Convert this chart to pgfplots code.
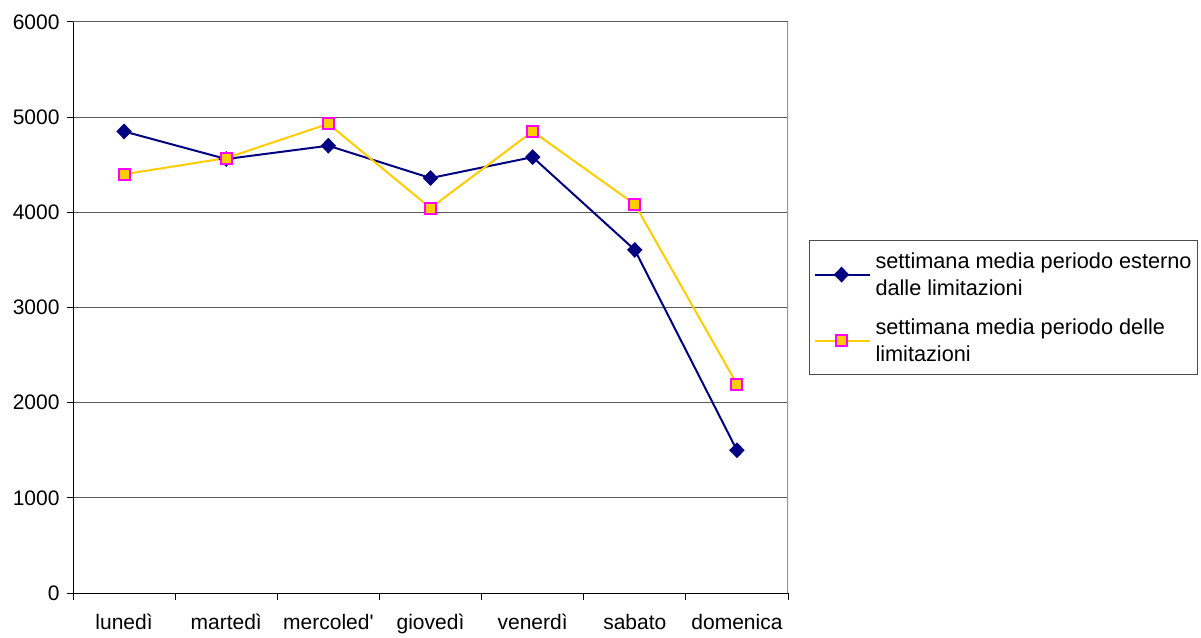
\documentclass[border=0pt]{standalone}
\usepackage{pgfplots}
\pgfplotsset{compat=1.18}
\usepackage{fontspec}
\setmainfont{Liberation Sans}
\definecolor{navyc}{HTML}{000080}
\definecolor{gold}{HTML}{FFCC00}
\definecolor{mag}{HTML}{FF00FF}
\begin{document}
\begin{tikzpicture}
\useasboundingbox (0,0) rectangle (1201bp,638bp);
\begin{axis}[
  at={(73bp,45bp)}, anchor=south west,
  scale only axis, width=715bp, height=571bp,
  xmin=-0.5, xmax=6.5, ymin=0, ymax=6000,
  xtick={0,...,6},
  xticklabels={lunedì,martedì,mercoled\textquotesingle,giovedì,venerdì,sabato,domenica},
  minor xtick={-0.5,0.5,...,6.5},
  major x tick style={draw=none},
  minor tick length=7bp,
  ytick={0,1000,...,6000},
  major tick length=6bp,
  tick align=outside,
  tick style={black, line width=1bp},
  axis x line*=bottom, axis y line*=left,
  axis line style={black, line width=1bp, -},
  ymajorgrids, major grid style={draw=black!65, line width=1bp},
  /pgf/number format/assume math mode=true,
  scaled y ticks=false,
  yticklabel style={/pgf/number format/1000 sep={}},
  ticklabel style={font=\fontsize{21bp}{24bp}\selectfont},
  xticklabel style={yshift=-12bp},
  yticklabel style={xshift=-4bp},
  legend style={at={(1.0294,0.6182)}, anchor=north west,
    draw=black!70, line width=1bp,
    font=\fontsize{21.7bp}{27bp}\selectfont,
    cells={anchor=west, align=left},
    row sep=18bp, inner xsep=4bp, inner ysep=10bp},
  legend image code/.code={
    \draw[#1, mark repeat=2, mark phase=2] plot coordinates {(0bp,0bp) (27bp,0bp) (55bp,0bp)};
    \path (58bp,0bp);
  },
]
\addplot[navyc, line width=2bp, mark=diamond*, mark size=6.5bp,
  mark options={solid, xscale=1.3, fill=navyc, draw=navyc}]
  coordinates {(0,4850) (1,4560) (2,4700) (3,4360) (4,4580) (5,3605) (6,1500)};
\addlegendentry{settimana media periodo esterno\\dalle limitazioni}
\addplot[gold, line width=2bp, mark=square*, mark size=5.5bp,
  mark options={solid, fill=gold, draw=mag, line width=2bp}]
  coordinates {(0,4400) (1,4570) (2,4930) (3,4045) (4,4850) (5,4085) (6,2195)};
\addlegendentry{settimana media periodo delle\\limitazioni}
\draw[black!40, line width=2bp] (rel axis cs:1,0) -- (rel axis cs:1,1);
\end{axis}
\end{tikzpicture}
\end{document}
